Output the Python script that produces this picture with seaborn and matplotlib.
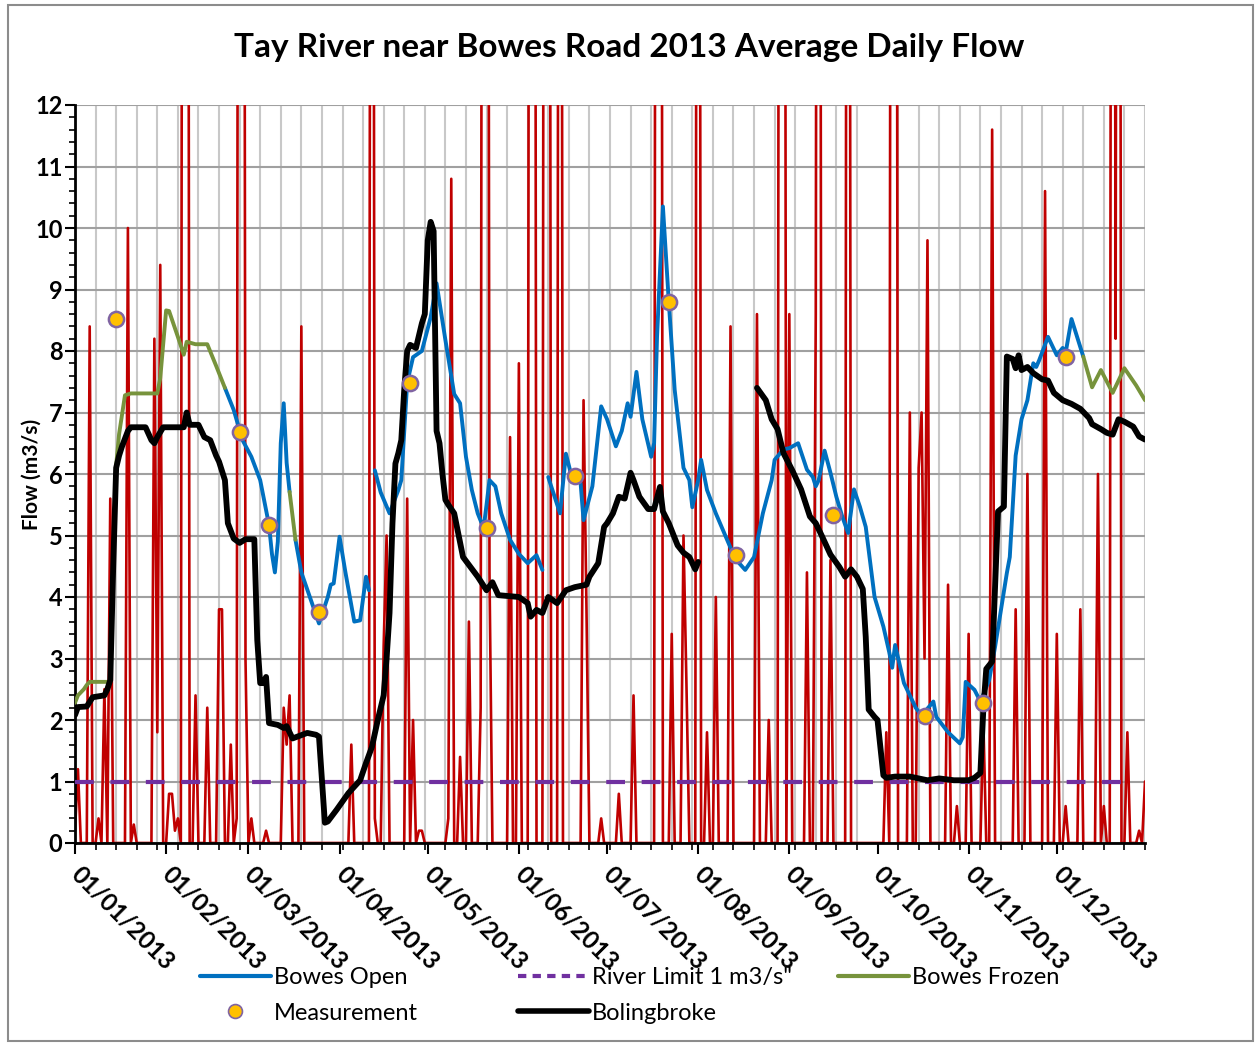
import numpy as np
import pandas as pd
import matplotlib
matplotlib.use('Agg')
import matplotlib.pyplot as plt
import matplotlib.dates as mdates
from matplotlib.ticker import MultipleLocator, FixedLocator
from matplotlib.lines import Line2D
from matplotlib.patches import Rectangle
import seaborn as sns

# ---- data (day of year, 0 = 01/01/2013) ----
# unlabelled red series, non-zero days only (off-scale spikes estimated at 40)
red_days = [0, 1, 5, 8, 10, 12, 18, 20, 27, 28, 29, 32, 33, 34, 35, 37, 38, 41, 45, 49, 50, 53, 55,
            56, 57, 58, 60, 65, 71, 72, 73, 77, 94, 101, 102, 105, 106, 113, 115, 117, 118, 127, 128,
            131, 134, 138, 139, 140, 141, 148, 151, 155, 156, 160, 161, 165, 173, 174, 179, 185, 190,
            198, 199, 203, 207, 208, 212, 215, 218, 223, 232, 236, 240, 241, 243, 249, 252, 253, 257,
            263, 276, 278, 279, 284, 287, 288, 289, 290, 297, 300, 304, 309, 312, 320, 324, 330, 334,
            337, 342, 348, 350, 353, 354, 355, 358, 362, 364]
red_vals = [0.2, 1.2, 8.4, 0.4, 2.5, 5.6, 10.0, 0.3, 8.2, 1.8, 9.4, 0.8, 0.8, 0.2, 0.4, 40, 40, 2.4, 2.2,
            3.8, 3.8, 1.6, 0.4, 40, 40, 3.0, 0.4, 0.2, 2.2, 1.6, 2.4, 8.4, 1.6, 40, 0.4, 3.2, 5.0, 5.6,
            2.0, 0.2, 0.2, 0.4, 10.8, 1.4, 3.6, 2.2, 40, 40, 4.4, 6.6, 7.8, 40, 40, 40, 40, 40, 7.2,
            3.8, 0.4, 0.8, 2.4, 40, 40, 3.4, 5.0, 2.6, 40, 1.8, 4.0, 8.4, 8.6, 2.0, 40, 40, 8.6, 4.4,
            8.6, 40, 4.6, 40, 1.8, 40, 40, 7.0, 6.1, 7.0, 3.0, 9.8, 4.2, 0.6, 3.4, 2.0, 11.6, 3.8, 6.0,
            10.6, 3.4, 0.6, 3.8, 6.0, 0.6, 40, 8.2, 40, 1.8, 0.2, 1.0]

# Bowes Open (blue), four pieces
open1_days = [51, 54, 57, 60, 63, 66, 67, 68, 69, 70, 71, 72, 73]
open1_flow = [7.4, 7.04, 6.55, 6.28, 5.9, 5.17, 4.7, 4.4, 4.9, 6.5, 7.15, 6.18, 5.71]
open2_days = [75, 77, 83, 86, 87, 88, 90, 92, 95, 97, 99, 100]
open2_flow = [4.93, 4.4, 3.57, 4.0, 4.2, 4.22, 4.98, 4.4, 3.6, 3.62, 4.33, 4.11]
open3_days = [102, 104, 107, 110, 111, 113, 115, 118, 121, 123, 126, 129, 131, 133, 135, 137, 139,
              140, 141, 143, 145, 148, 151, 154, 157, 159]
open3_flow = [6.06, 5.7, 5.36, 5.74, 5.9, 7.48, 7.9, 8.0, 8.55, 9.1, 8.18, 7.3, 7.15, 6.28, 5.74,
              5.36, 5.12, 5.5, 5.9, 5.8, 5.36, 4.93, 4.7, 4.55, 4.68, 4.44]
open4_days = [161, 162, 165, 167, 169, 172, 173, 176, 179, 181, 184, 186, 188, 189, 191, 193, 196,
              197, 198, 200, 202, 204, 207, 209, 210, 212, 213, 215, 218, 223, 225, 228, 231, 234,
              237, 238, 241, 243, 246, 249, 251, 252, 253, 255, 257, 259, 261, 263, 265, 267, 269,
              272, 275, 277, 278, 279, 282, 286, 288, 292, 293, 297, 301, 302, 303, 306, 308, 311,
              313, 317, 318, 320, 322, 324, 326, 327, 328, 331, 334, 336, 337, 339, 343]
open4_flow = [5.95, 5.8, 5.36, 6.33, 5.95, 5.85, 5.25, 5.8, 7.1, 6.89, 6.45, 6.7, 7.15, 6.93, 7.66,
              6.89, 6.28, 6.5, 8.23, 10.35, 8.8, 7.37, 6.1, 5.9, 5.46, 5.9, 6.23, 5.74, 5.36, 4.8,
              4.6, 4.44, 4.65, 5.36, 5.9, 6.23, 6.4, 6.42, 6.5, 6.07, 5.95, 5.8, 5.9, 6.38, 6.02,
              5.63, 5.31, 5.04, 5.75, 5.47, 5.14, 4.0, 3.52, 3.1, 2.85, 3.22, 2.6, 2.2, 2.07, 2.3,
              2.05, 1.8, 1.62, 1.72, 2.62, 2.49, 2.3, 2.65, 3.19, 4.39, 4.65, 6.3, 6.89, 7.2, 7.8,
              7.74, 7.85, 8.23, 7.93, 8.05, 7.97, 8.52, 7.91]

# Bowes Frozen (green), three pieces
frozen1_days = [0, 1, 3, 4, 5, 12, 14, 15, 17, 19, 28, 29, 31, 32, 35, 37, 38, 41, 45, 48, 51]
frozen1_flow = [2.28, 2.4, 2.5, 2.57, 2.62, 2.62, 6.14, 6.65, 7.28, 7.31, 7.31, 7.56, 8.66, 8.65,
                8.23, 7.94, 8.15, 8.11, 8.11, 7.76, 7.4]
frozen2_days = [73, 75]
frozen2_flow = [5.71, 4.93]
frozen3_days = [343, 346, 349, 353, 357, 361, 364]
frozen3_flow = [7.91, 7.41, 7.69, 7.32, 7.72, 7.44, 7.2]

# Bolingbroke (black), two pieces
boling1_days = [0, 1, 4, 6, 10, 11, 12, 13, 14, 15, 16, 18, 19, 24, 26, 27, 28, 30, 37, 38, 39, 42,
                44, 46, 48, 49, 51, 52, 54, 56, 58, 61, 62, 63, 64, 65, 66, 69, 71, 72, 74, 79, 82,
                83, 85, 86, 89, 93, 97, 99, 101, 103, 105, 106, 107, 108, 109, 110, 111, 112, 113,
                114, 116, 118, 119, 120, 121, 122, 123, 124, 125, 126, 127, 129, 132, 137, 140, 142,
                144, 151, 154, 155, 157, 159, 161, 164, 167, 170, 174, 175, 178, 180, 181, 183, 185,
                187, 189, 190, 192, 195, 197, 199, 200, 202, 205, 207, 209, 211, 212]
boling1_flow = [2.08, 2.21, 2.22, 2.37, 2.4, 2.5, 2.65, 4.5, 6.1, 6.3, 6.45, 6.7, 6.76, 6.76, 6.55,
                6.5, 6.6, 6.76, 6.76, 7.0, 6.8, 6.8, 6.6, 6.55, 6.3, 6.2, 5.9, 5.2, 4.95, 4.88, 4.94,
                4.94, 3.3, 2.6, 2.6, 2.7, 1.95, 1.92, 1.87, 1.9, 1.7, 1.79, 1.76, 1.73, 0.33, 0.35,
                0.54, 0.81, 1.02, 1.3, 1.56, 2.0, 2.4, 3.0, 3.74, 5.2, 6.17, 6.34, 6.55, 7.37, 8.0,
                8.1, 8.05, 8.45, 8.6, 9.8, 10.1, 9.95, 6.7, 6.5, 6.0, 5.58, 5.5, 5.36, 4.65, 4.33,
                4.11, 4.24, 4.03, 4.0, 3.9, 3.68, 3.79, 3.74, 4.0, 3.9, 4.11, 4.16, 4.2, 4.33, 4.55,
                5.14, 5.2, 5.36, 5.63, 5.6, 6.02, 5.9, 5.63, 5.43, 5.43, 5.79, 5.39, 5.2, 4.84, 4.72,
                4.65, 4.45, 4.57]
boling2_days = [232, 235, 237, 239, 241, 244, 247, 250, 252, 254, 257, 260, 262, 264, 266, 268, 269,
                270, 272, 273, 275, 276, 279, 284, 290, 294, 299, 304, 306, 308, 309, 310, 312, 314,
                316, 317, 319, 320, 321, 322, 324, 326, 329, 331, 333, 336, 339, 342, 345, 346, 349,
                351, 353, 355, 357, 360, 362, 364]
boling2_flow = [7.4, 7.2, 6.89, 6.73, 6.34, 6.06, 5.75, 5.31, 5.2, 5.0, 4.69, 4.49, 4.33, 4.45, 4.33,
                4.13, 3.35, 2.17, 2.05, 2.0, 1.1, 1.06, 1.08, 1.08, 1.02, 1.05, 1.02, 1.02, 1.06, 1.14,
                2.17, 2.83, 2.95, 5.39, 5.47, 7.91, 7.87, 7.72, 7.93, 7.69, 7.74, 7.64, 7.54, 7.52,
                7.32, 7.2, 7.14, 7.06, 6.91, 6.81, 6.73, 6.67, 6.64, 6.89, 6.85, 6.77, 6.61, 6.56]

# Measurements
meas_days = [14, 56, 66, 83, 114, 140, 170, 202, 225, 258, 289, 309, 337]
meas_flow = [8.52, 6.68, 5.17, 3.75, 7.48, 5.12, 5.96, 8.8, 4.69, 5.33, 2.07, 2.28, 7.9]

# River limit
limit_days = [0, 359]
limit_flow = [1.0, 1.0]

start = pd.Timestamp('2013-01-01')


def frame(days, vals):
    return pd.DataFrame({'date': start + pd.to_timedelta(days, unit='D'), 'flow': vals})


red = np.zeros(365)
red[red_days] = red_vals
red_df = frame(np.arange(365), red)

sns.set_theme(style='white')
plt.rcParams['font.family'] = ['Lato', 'DejaVu Sans']
plt.rcParams['text.color'] = 'black'
plt.rcParams['axes.labelcolor'] = 'black'
plt.rcParams['xtick.color'] = 'black'
plt.rcParams['ytick.color'] = 'black'

fig = plt.figure(figsize=(12.59, 10.46), dpi=100)
ax = fig.add_axes([75 / 1259, 1 - 843 / 1046, 1070 / 1259, 738 / 1046])

BLUE = '#0070C0'
GREEN = '#77933C'
PURPLE = '#7030A0'

sns.lineplot(data=red_df, x='date', y='flow', ax=ax, color='#C00000', lw=1.9, zorder=2, errorbar=None)
sns.lineplot(data=frame(limit_days, limit_flow), x='date', y='flow', ax=ax, color=PURPLE, lw=3,
             linestyle=(0, (4.5, 4)), zorder=3, errorbar=None)
for d, v in [(open1_days, open1_flow), (open2_days, open2_flow), (open3_days, open3_flow),
             (open4_days, open4_flow)]:
    sns.lineplot(data=frame(d, v), x='date', y='flow', ax=ax, color=BLUE, lw=2.8, zorder=4, errorbar=None)
for d, v in [(frozen1_days, frozen1_flow), (frozen2_days, frozen2_flow), (frozen3_days, frozen3_flow)]:
    sns.lineplot(data=frame(d, v), x='date', y='flow', ax=ax, color=GREEN, lw=2.8, zorder=4, errorbar=None)
for d, v in [(boling1_days, boling1_flow), (boling2_days, boling2_flow)]:
    sns.lineplot(data=frame(d, v), x='date', y='flow', ax=ax, color='black', lw=4.2, zorder=5, errorbar=None)
mdf = frame(meas_days, meas_flow)
sns.scatterplot(data=mdf, x='date', y='flow', ax=ax, s=120, color='#FFC000', edgecolor='#8064A2',
                linewidth=1.8, zorder=6)

# axes cosmetics
ax.set_xlim(start, start + pd.Timedelta(days=364))
ax.set_ylim(0, 12)
ax.yaxis.set_major_locator(MultipleLocator(1))
ax.yaxis.set_minor_locator(MultipleLocator(0.2))
ax.xaxis.set_major_locator(mdates.MonthLocator())
ax.xaxis.set_major_formatter(mdates.DateFormatter('%d/%m/%Y'))
weeks = pd.date_range(start, periods=53, freq='7D')
ax.xaxis.set_minor_locator(FixedLocator(mdates.date2num(weeks)))

ax.grid(False)
ax.grid(True, which='minor', axis='x', color='#C8C8C8', lw=1.5)
ax.grid(True, which='major', axis='y', color='#A0A0A0', lw=1.5)
ax.set_axisbelow(True)

for s in ['top', 'right']:
    ax.spines[s].set_visible(False)
for s in ['left', 'bottom']:
    ax.spines[s].set_color('black')
    ax.spines[s].set_linewidth(2)

ax.tick_params(axis='y', which='major', direction='out', length=7, width=1.5, color='black',
               left=True, pad=2, labelsize=17)
ax.tick_params(axis='y', which='minor', direction='out', length=4, width=1.2, color='black', left=True)
ax.tick_params(axis='x', which='major', direction='out', length=8, width=1.5, color='black',
               bottom=True, pad=12, labelsize=17.5)
ax.tick_params(axis='x', which='minor', direction='out', length=5, width=1.2, color='black', bottom=True)
for lab in ax.get_yticklabels():
    lab.set_fontweight('bold')
for lab in ax.get_xticklabels():
    lab.set_fontweight('bold')
    lab.set_rotation(-45)
    lab.set_ha('left')
    lab.set_va('center')
    lab.set_rotation_mode('anchor')

ax.set_xlabel('')
ax.set_ylabel('Flow (m3/s)', fontsize=15, fontweight='bold')
ax.yaxis.set_label_coords(-0.031, 0.5)

fig.text(0.5, 1 - 48 / 1046, 'Tay River near Bowes Road 2013 Average Daily Flow', ha='center',
         va='center', fontsize=24, fontweight='bold')

# legend: three equal-width columns like the original
h_open = Line2D([], [], color=BLUE, lw=3)
h_meas = Line2D([], [], marker='o', ls='none', markersize=10, markerfacecolor='#FFC000',
                markeredgecolor='#8064A2', markeredgewidth=1.2)
h_limit = Line2D([], [], color=PURPLE, lw=3, linestyle=(0, (2, 1.5)))
h_bol = Line2D([], [], color='black', lw=4)
h_frozen = Line2D([], [], color=GREEN, lw=3)
leg_kw = dict(frameon=False, fontsize=17, handlelength=3.0, labelspacing=0.6, handletextpad=0.15,
              borderpad=0, borderaxespad=0)
fig.legend([h_open, h_meas], ['Bowes Open', 'Measurement'], loc='center left',
           bbox_to_anchor=(200 / 1259, 1 - 995.5 / 1046), **leg_kw)
fig.legend([h_limit, h_bol], ['River Limit 1 m3/s"', 'Bolingbroke'], loc='center left',
           bbox_to_anchor=(518 / 1259, 1 - 995.5 / 1046), **leg_kw)
fig.legend([h_frozen], ['Bowes Frozen'], loc='center left',
           bbox_to_anchor=(838 / 1259, 1 - 978 / 1046), **leg_kw)

fig.add_artist(Rectangle((0.006, 0.005), 0.989, 0.99, transform=fig.transFigure, fill=False,
                         ec='#8C8C8C', lw=1.5))

fig.savefig('out.png', dpi=100)
